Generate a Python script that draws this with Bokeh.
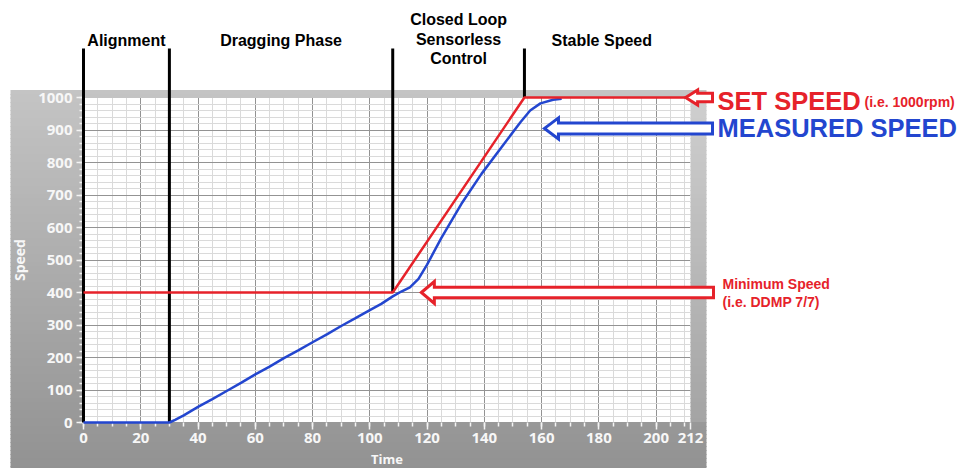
from bokeh.plotting import figure
from bokeh.models import Range1d, FixedTicker, ColumnDataSource
from bokeh.core.properties import value
from bokeh.embed import file_html
from bokeh.resources import INLINE

# ---------------- data ----------------
set_time = [0, 108, 154, 212]
set_speed = [400, 400, 1000, 1000]

meas_time = [0, 30, 32, 35, 40, 45, 50, 55, 60, 65, 70, 75, 80, 85, 90, 95, 100, 104,
             108, 111, 114, 117, 120, 125, 132, 139, 146, 152.6, 156, 159.6, 164, 167]
meas_speed = [0, 0, 8, 22, 48, 72, 97, 122, 148, 172, 198, 222, 247, 271, 297, 321, 346, 365,
              388, 403, 416, 442, 486, 568, 673, 765, 847, 924, 960, 982, 993, 996]

phase_bounds = [0, 30, 108, 154]
phase_line_end = [0, 0, 400, 1000]
phase_label_x = [15, 69, 131, 181]
phase_labels = ["Alignment", "Dragging Phase", "Closed Loop\nSensorless\nControl", "Stable Speed"]

x_ticks = [0, 20, 40, 60, 80, 100, 120, 140, 160, 180, 200, 212]
y_ticks = [0, 100, 200, 300, 400, 500, 600, 700, 800, 900, 1000]
x_minor = list(range(0, 213, 5))
y_minor = list(range(0, 1001, 20))

SET_SPEED = 1000
MIN_SPEED = 400
MEAS_ARROW_SPEED = 905

RED = "#e6222a"
BLUE = "#2346cf"

# ---------------- layout (canvas pixels) ----------------
X0, X1, Y0, Y1 = 0, 212, 0, 1000
FW, FH = 607, 325
BL, BR, BT, BB = 83, 272, 97, 46
W, H = FW + BL + BR, FH + BT + BB
FL, FR, FT, FB = BL, BL + FW, BT, BT + FH


def dx(cx):
    return X0 + (cx - FL) * (X1 - X0) / FW


def dy(cy):
    return Y0 + (FB - cy) * (Y1 - Y0) / FH


def cxx(x):
    return FL + (x - X0) * FW / (X1 - X0)


def cyy(y):
    return FB - (y - Y0) * FH / (Y1 - Y0)


p = figure(frame_width=FW, frame_height=FH,
           min_border_left=BL, min_border_right=BR, min_border_top=BT, min_border_bottom=BB,
           x_range=Range1d(X0, X1), y_range=Range1d(Y0, Y1),
           output_backend="svg", toolbar_location=None,
           background_fill_color="white", border_fill_color="white",
           outline_line_color=None)

# ---------------- grey gradient panel around the plot ----------------
PANEL_L, PANEL_R, PANEL_T, PANEL_B = 10, 706, 90, H


def grey(t, light=0):
    top, bot = 0xc4, 0x92
    v = int(round(top + (bot - top) * t)) + light
    v = max(0, min(255, v))
    return "#%02x%02x%02x" % (v, v, v)


edges = sorted(set(list(range(PANEL_T, PANEL_B, 4)) + [PANEL_B, FT, FB]))
gl, gr, gt, gb, gc = [], [], [], [], []
for a, b in zip(edges[:-1], edges[1:]):
    t = ((a + b) / 2 - PANEL_T) / (PANEL_B - PANEL_T)
    if b <= FT or a >= FB:
        pieces = [(PANEL_L, PANEL_R)]
    else:
        pieces = [(PANEL_L, FL), (FR, PANEL_R)]
    for (l, r) in pieces:
        gl.append(dx(l)); gr.append(dx(r))
        gt.append(dy(a - 0.5)); gb.append(dy(b + 0.5))
        gc.append(grey(t, 12 if l == FR else 0))

p.quad(left="l", right="r", top="t", bottom="b", fill_color="c", line_color=None,
       source=ColumnDataSource(dict(l=gl, r=gr, t=gt, b=gb, c=gc)), level="guide")

# ---------------- axes & grid ----------------
xt = FixedTicker(ticks=x_ticks, minor_ticks=x_minor)
yt = FixedTicker(ticks=y_ticks, minor_ticks=y_minor)
p.xaxis.ticker = xt
p.yaxis.ticker = yt
p.xgrid.ticker = xt
p.ygrid.ticker = yt
for g in (p.xgrid[0], p.ygrid[0]):
    g.grid_line_color = "#939393"
    g.grid_line_width = 1
    g.minor_grid_line_color = "#dadada"
    g.minor_grid_line_width = 1

for ax in (p.xaxis[0], p.yaxis[0]):
    ax.axis_line_color = None
    ax.major_tick_line_color = "#f4f4f4"
    ax.minor_tick_line_color = "#f4f4f4"
    ax.major_tick_line_width = 1.5
    ax.minor_tick_line_width = 1.5
    ax.major_tick_in = 0
    ax.major_tick_out = 7
    ax.minor_tick_in = 0
    ax.minor_tick_out = 4
    ax.major_label_text_color = "#f7f7f7"
    ax.major_label_text_font = "Open Sans"
    ax.major_label_text_font_style = "bold"
    ax.major_label_text_font_size = "15px"
p.xaxis.major_label_standoff = 3
p.yaxis.major_label_standoff = 4
p.yaxis.axis_label = "Speed"
p.yaxis.axis_label_text_font = "Open Sans"
p.yaxis.axis_label_text_font_style = "bold"
p.yaxis.axis_label_text_font_size = "14px"
p.yaxis.axis_label_text_color = "#f7f7f7"
p.yaxis.axis_label_standoff = 6

# x axis title at the bottom edge
p.text(x=[(X0 + X1) / 2], y=[dy(458)], text=["Time"], text_font=value("Open Sans"),
       text_font_style="bold", text_font_size="13px", text_color="#f7f7f7",
       text_align="center", text_baseline="middle", level="overlay")

# ---------------- phase separators & labels ----------------
p.segment(x0=phase_bounds, y0=[dy(48)] * len(phase_bounds), x1=phase_bounds, y1=phase_line_end,
          line_color="black", line_width=3, level="overlay")

lab_x, lab_y, lab_t = [], [], []
for x, name in zip(phase_label_x, phase_labels):
    lines = name.split("\n")
    rows = [40] if len(lines) == 1 else [19, 38.5, 58]
    for ln, r in zip(lines, rows):
        lab_x.append(x); lab_y.append(dy(r)); lab_t.append(ln)
p.text(x=lab_x, y=lab_y, text=lab_t, text_font=value("Liberation Sans"), text_font_style="bold",
       text_font_size="16px", text_color="black", text_align="center", text_baseline="middle",
       level="overlay")

# ---------------- data lines ----------------
p.line(meas_time, meas_speed, line_color=BLUE, line_width=2.5, level="overlay")
p.line(set_time, set_speed, line_color=RED, line_width=2.5, level="overlay")

# ---------------- hollow arrows ----------------


def hollow_arrow(tip_x, tip_y, head_len, head_half, shaft_half, end_cx):
    tx, ty = cxx(tip_x), cyy(tip_y)
    hx = tx + head_len
    pts = [(tx, ty), (hx, ty - head_half), (hx, ty - shaft_half), (end_cx, ty - shaft_half),
           (end_cx, ty + shaft_half), (hx, ty + shaft_half), (hx, ty + head_half)]
    return [dx(a) for a, _ in pts], [dy(b) for _, b in pts]


arrows = [
    (hollow_arrow(210.3, SET_SPEED, 12, 7.5, 4.2, 712), RED),
    (hollow_arrow(161, MEAS_ARROW_SPEED, 14, 10.5, 5.5, 712), BLUE),
    (hollow_arrow(118, MIN_SPEED, 13, 11, 5.2, 713), RED),
]
p.patches(xs=[a[0][0] for a in arrows], ys=[a[0][1] for a in arrows],
          fill_color="white", line_color=[a[1] for a in arrows], line_width=3,
          line_join="miter", level="overlay")

# ---------------- right-hand texts ----------------
p.text(x=[dx(717), dx(717)], y=[dy(100), dy(127)], text=["SET SPEED", "MEASURED SPEED"],
       text_color=[RED, BLUE], text_font=value("Liberation Sans"), text_font_style="bold",
       text_font_size="25.5px", text_align="left", text_baseline="middle", level="overlay")
p.text(x=[dx(864)], y=[dy(101)], text=["(i.e. 1000rpm)"], text_color=RED,
       text_font=value("Liberation Sans"), text_font_style="bold", text_font_size="14px",
       text_align="left", text_baseline="middle", level="overlay")
p.text(x=[dx(722), dx(722)], y=[dy(283), dy(301)], text=["Minimum Speed", "(i.e. DDMP 7/7)"],
       text_color=RED, text_font=value("Liberation Sans"), text_font_style="bold",
       text_font_size="14px", text_align="left", text_baseline="middle", level="overlay")

open("out.html", "w").write(file_html(p, INLINE))
